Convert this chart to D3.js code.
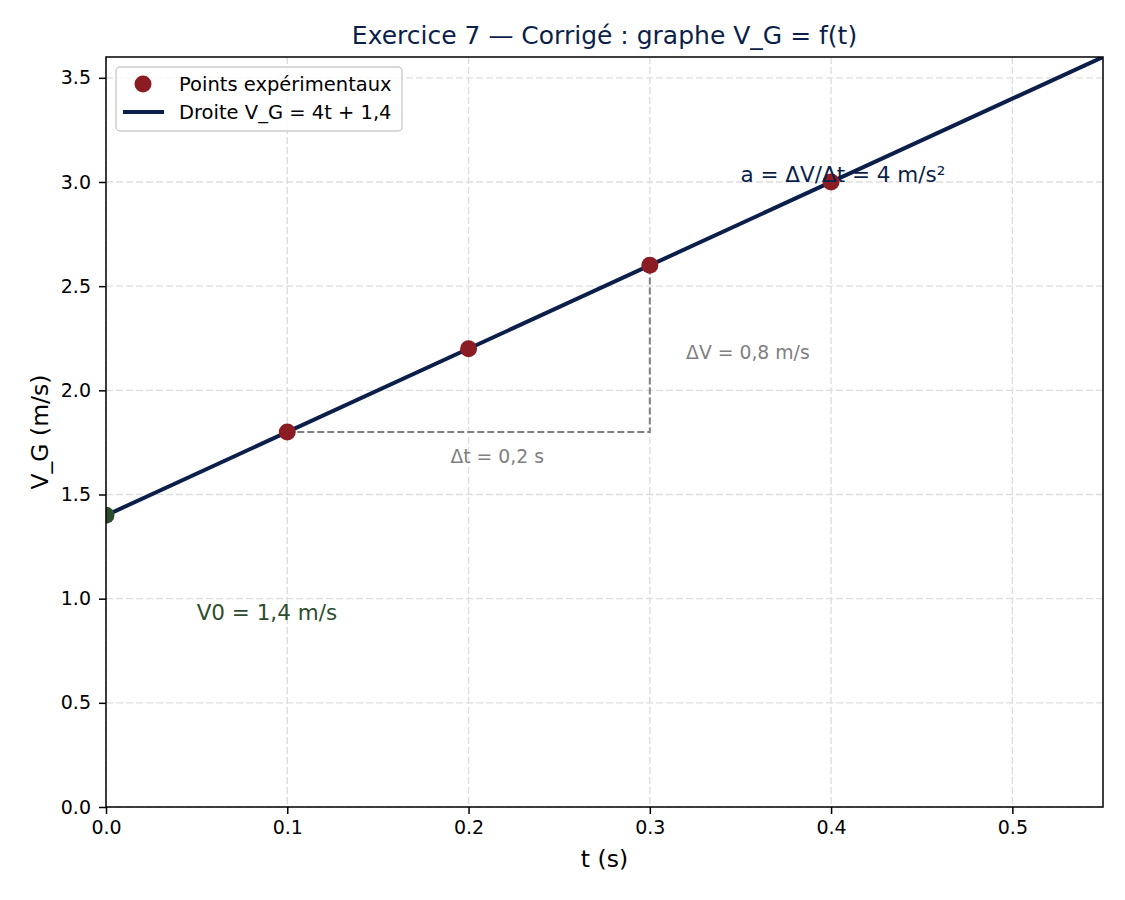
<!DOCTYPE html>
<html>
<head>
<meta charset="utf-8">
<script src="https://cdn.jsdelivr.net/npm/d3@7"></script>
<style>
  body { margin: 0; background: #fff; }
  svg { font-family: "DejaVu Sans", sans-serif; }
</style>
</head>
<body>
<svg id="chart" width="1125" height="900"></svg>
<script>
// data
const tPoints = [0.1, 0.2, 0.3, 0.4];
const vPoints = [1.8, 2.2, 2.6, 3.0];
const lineT = [0, 0.55];
const slope = 4;
const intercept = 1.4;
const xTicks = [0.0, 0.1, 0.2, 0.3, 0.4, 0.5];
const yTicks = [0.0, 0.5, 1.0, 1.5, 2.0, 2.5, 3.0, 3.5];

const navy = '#0c1f4a';
const red = '#8b1c24';
const green = '#2e4d2e';

const margin = {left: 106, top: 57, right: 22, bottom: 93};
const width = 1125, height = 900;
const innerW = width - margin.left - margin.right;
const innerH = height - margin.top - margin.bottom;

const svg = d3.select('#chart');

const x = d3.scaleLinear().domain([0, 0.55]).range([0, innerW]);
const y = d3.scaleLinear().domain([0, 3.6]).range([innerH, 0]);

svg.append('defs').append('clipPath')
    .attr('id', 'plot-clip')
    .append('rect')
    .attr('width', innerW)
    .attr('height', innerH);

const g = svg.append('g').attr('transform', `translate(${margin.left},${margin.top})`);

// grid
g.append('g').selectAll('line')
    .data(xTicks)
    .join('line')
    .attr('x1', d => x(d)).attr('x2', d => x(d))
    .attr('y1', 0).attr('y2', innerH)
    .attr('stroke', '#dedede')
    .attr('stroke-width', 1.4)
    .attr('stroke-dasharray', '7,3');

g.append('g').selectAll('line')
    .data(yTicks)
    .join('line')
    .attr('x1', 0).attr('x2', innerW)
    .attr('y1', d => y(d)).attr('y2', d => y(d))
    .attr('stroke', '#dedede')
    .attr('stroke-width', 1.4)
    .attr('stroke-dasharray', '7,3');

const plot = g.append('g').attr('clip-path', 'url(#plot-clip)');

// slope triangle
const t0 = tPoints[0], t1 = tPoints[2];
const v0 = vPoints[0], v1 = vPoints[2];
plot.append('path')
    .attr('d', `M${x(t0)},${y(v0)}L${x(t1)},${y(v0)}L${x(t1)},${y(v1)}`)
    .attr('fill', 'none')
    .attr('stroke', '#808080')
    .attr('stroke-width', 2)
    .attr('stroke-dasharray', '7,3');

// line V_G = 4t + 1,4
const line = d3.line()
    .x(d => x(d))
    .y(d => y(slope * d + intercept));

plot.append('path')
    .datum(lineT)
    .attr('d', line)
    .attr('fill', 'none')
    .attr('stroke', navy)
    .attr('stroke-width', 4);

// experimental points
plot.selectAll('circle.pt')
    .data(tPoints)
    .join('circle')
    .attr('class', 'pt')
    .attr('cx', d => x(d))
    .attr('cy', (d, i) => y(vPoints[i]))
    .attr('r', 8.5)
    .attr('fill', red);

// V0 point
plot.append('circle')
    .attr('cx', x(0))
    .attr('cy', y(intercept))
    .attr('r', 8.5)
    .attr('fill', green);

// annotations
g.append('text')
    .attr('x', x(0.35)).attr('y', y(3.0))
    .attr('font-size', 21.5)
    .attr('fill', navy)
    .text('a = ΔV/Δt = 4 m/s²');

g.append('text')
    .attr('x', x(0.32)).attr('y', y(2.15))
    .attr('font-size', 18.8)
    .attr('fill', '#808080')
    .text('ΔV = 0,8 m/s');

g.append('text')
    .attr('x', x(0.19)).attr('y', y(1.65))
    .attr('font-size', 18.8)
    .attr('fill', '#808080')
    .text('Δt = 0,2 s');

g.append('text')
    .attr('x', x(0.05)).attr('y', y(0.9))
    .attr('font-size', 21.5)
    .attr('fill', green)
    .text('V0 = 1,4 m/s');

// axes
const xAxis = g.append('g')
    .attr('transform', `translate(0,${innerH})`)
    .call(d3.axisBottom(x).tickValues(xTicks).tickFormat(d3.format('.1f')).tickSizeOuter(0).tickSize(7).tickPadding(7));
const yAxis = g.append('g')
    .call(d3.axisLeft(y).tickValues(yTicks).tickFormat(d3.format('.1f')).tickSizeOuter(0).tickSize(7).tickPadding(8));

[xAxis, yAxis].forEach(ax => {
    ax.select('.domain').remove();
    ax.selectAll('text').attr('font-size', 19).attr('fill', '#000').attr('font-family', 'DejaVu Sans');
    ax.selectAll('line').attr('stroke', '#000').attr('stroke-width', 1.5);
});

// frame
g.append('rect')
    .attr('width', innerW).attr('height', innerH)
    .attr('fill', 'none')
    .attr('stroke', '#000')
    .attr('stroke-width', 1.5);

// labels
svg.append('text')
    .attr('x', margin.left + innerW / 2).attr('y', 44)
    .attr('text-anchor', 'middle')
    .attr('font-size', 25)
    .attr('fill', navy)
    .text('Exercice 7 — Corrigé : graphe V_G = f(t)');

svg.append('text')
    .attr('x', margin.left + innerW / 2).attr('y', 867)
    .attr('text-anchor', 'middle')
    .attr('font-size', 23.5)
    .text('t (s)');

svg.append('text')
    .attr('transform', `translate(48,${margin.top + innerH / 2}) rotate(-90)`)
    .attr('text-anchor', 'middle')
    .attr('font-size', 23.5)
    .text('V_G (m/s)');

// legend
const legend = g.append('g').attr('transform', 'translate(10,10)');
legend.append('rect')
    .attr('width', 286).attr('height', 64)
    .attr('rx', 4)
    .attr('fill', '#fff').attr('fill-opacity', 0.8)
    .attr('stroke', '#cccccc')
    .attr('stroke-width', 1.4);

const legendItems = ['Points expérimentaux', 'Droite V_G = 4t + 1,4'];
legend.selectAll('text')
    .data(legendItems)
    .join('text')
    .attr('x', 63)
    .attr('y', (d, i) => 24 + i * 28)
    .attr('font-size', 19.5)
    .text(d => d);

legend.append('circle')
    .attr('cx', 27).attr('cy', 17)
    .attr('r', 8.5).attr('fill', red);
legend.append('line')
    .attr('x1', 7).attr('x2', 48)
    .attr('y1', 45).attr('y2', 45)
    .attr('stroke', navy).attr('stroke-width', 4);
</script>
</body>
</html>
